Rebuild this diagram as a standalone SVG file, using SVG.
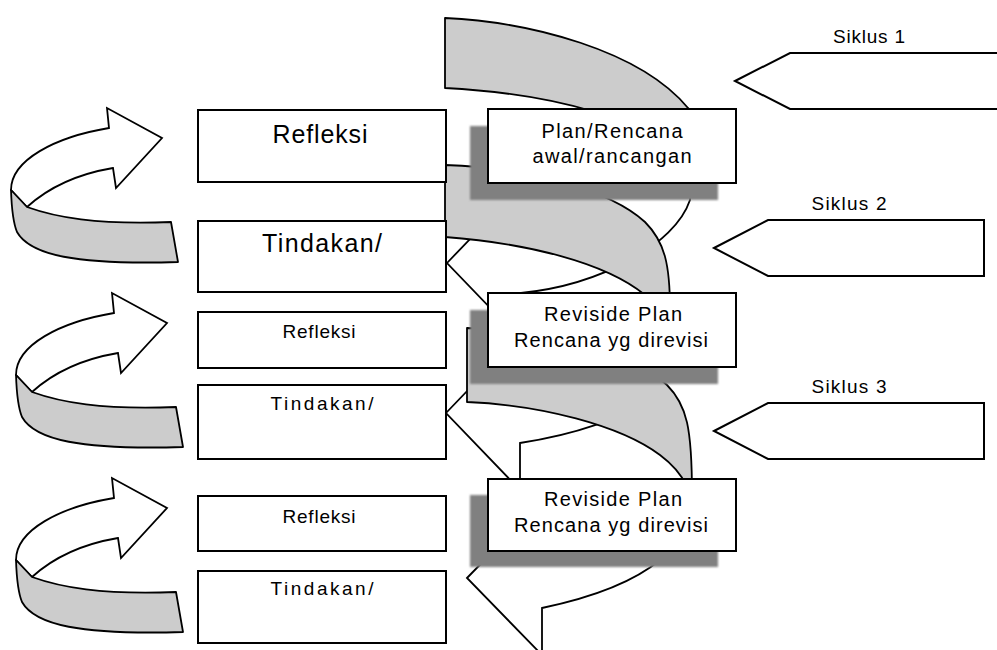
<svg xmlns="http://www.w3.org/2000/svg" width="997" height="650" viewBox="0 0 997 650">
<defs>
<style>
.box{fill:#fff;stroke:#000;stroke-width:2}
.sh{fill:#808080;filter:url(#blur)}
.band{fill:#cccccc;stroke:#000;stroke-width:1.8;stroke-linejoin:round}
.front{fill:#fff;stroke:#000;stroke-width:1.8;stroke-linejoin:miter}
.t{font-family:"Liberation Sans",Arial,sans-serif;fill:#000;text-anchor:middle}
.big{font-size:25px}
.mid{font-size:20px}
.sm{font-size:19px}
.sk{font-size:19px}
</style>
<filter id="blur" x="-5%" y="-10%" width="110%" height="120%"><feGaussianBlur stdDeviation="1"/></filter>
<g id="curl">
<path class="front" d="M32,392 Q65,362 118,353 L121,373 L167,323 L112,293 L114,313 C60,322 16,345 16,375 Z"/>
<path class="band" d="M16,375 L32,392 C60,402 100,410 176,407 L183,447 C80,450 35,440 22,417 Q17,405 16,375 Z"/>
</g>
</defs>
<rect width="997" height="650" fill="#fff"/>

<g id="connectors">
<use href="#curl" transform="translate(-5,-185)"/>
<use href="#curl"/>
<use href="#curl" transform="translate(0,185)"/>
<g id="spiral-1">
<path class="band" d="M445,18 C530,22 640,50 688,108 C700,120 700,135 695,150 L660,140 C600,105 520,92 445,88 Z"/>
<path class="front" d="M447,263 L521,186 L600,160 L692,150 L690,200 C675,245 600,285 521,293 L521,340 Z"/>
</g>
<g id="spiral-2">
<path class="band" d="M445,165 C530,168 610,190 645,222 C665,242 670,265 670,310 L648,310 L645,295 C605,262 525,243 445,237 Z"/>
<path class="front" d="M446,413 L520,336 L600,315 L670,300 C670,350 665,375 655,390 C630,420 565,436 520,443 L520,490 Z"/>
</g>
<g id="spiral-3">
<path class="band" d="M467,328 C552,331 632,353 667,385 C687,405 692,428 692,495 L686,495 L686,485 C680,472 672,464 660,455 C620,425 540,405 467,402 Z"/>
<path class="front" d="M467,578 L542,501 L600,490 L692,485 C692,515 680,540 660,560 C630,585 580,600 542,608 L542,655 Z"/>
</g>
</g>

<g id="refleksi-1"><rect class="box" x="198" y="110" width="248" height="72"/><text class="t big" x="320" y="143" textLength="95" lengthAdjust="spacing">Refleksi</text></g>
<g id="tindakan-1"><rect class="box" x="198" y="221" width="248" height="71"/><text class="t big" x="322" y="252" textLength="120" lengthAdjust="spacing">Tindakan/</text></g>
<g id="refleksi-2"><rect class="box" x="198" y="312" width="248" height="56"/><text class="t sm" x="319" y="338" textLength="73" lengthAdjust="spacing">Refleksi</text></g>
<g id="tindakan-2"><rect class="box" x="198" y="385" width="248" height="74"/><text class="t sm" x="322" y="410" textLength="103" lengthAdjust="spacing">Tindakan/</text></g>
<g id="refleksi-3"><rect class="box" x="198" y="496" width="248" height="55"/><text class="t sm" x="319" y="523" textLength="73" lengthAdjust="spacing">Refleksi</text></g>
<g id="tindakan-3"><rect class="box" x="198" y="571" width="248" height="72"/><text class="t sm" x="322" y="595" textLength="103" lengthAdjust="spacing">Tindakan/</text></g>

<g id="plan">
<rect class="sh" x="470" y="126" width="248" height="74"/>
<rect class="box" x="488" y="109" width="248" height="74"/>
<text class="t mid" x="612" y="138" textLength="141" lengthAdjust="spacing">Plan/Rencana</text>
<text class="t mid" x="612" y="163" textLength="159" lengthAdjust="spacing">awal/rancangan</text>
</g>
<g id="revisi-1">
<rect class="sh" x="470" y="310" width="248" height="74"/>
<rect class="box" x="488" y="293" width="248" height="74"/>
<text class="t mid" x="613" y="321" textLength="138" lengthAdjust="spacing">Reviside Plan</text>
<text class="t mid" x="611" y="347" textLength="194" lengthAdjust="spacing">Rencana yg direvisi</text>
</g>
<g id="revisi-2">
<rect class="sh" x="470" y="495" width="248" height="72"/>
<rect class="box" x="488" y="479" width="248" height="72"/>
<text class="t mid" x="613" y="506" textLength="138" lengthAdjust="spacing">Reviside Plan</text>
<text class="t mid" x="611" y="532" textLength="194" lengthAdjust="spacing">Rencana yg direvisi</text>
</g>

<g id="siklus-1">
<polygon class="box" points="735,81 790,53 1001,53 1001,109 790,109"/>
<text class="t sk" x="869" y="43" textLength="72" lengthAdjust="spacing">Siklus 1</text>
</g>
<g id="siklus-2">
<polygon class="box" points="714,248 768,220 984,220 984,276 768,276"/>
<text class="t sk" x="849" y="210" textLength="75" lengthAdjust="spacing">Siklus 2</text>
</g>
<g id="siklus-3">
<polygon class="box" points="714,431 768,403 984,403 984,459 768,459"/>
<text class="t sk" x="849" y="393" textLength="75" lengthAdjust="spacing">Siklus 3</text>
</g>
</svg>
